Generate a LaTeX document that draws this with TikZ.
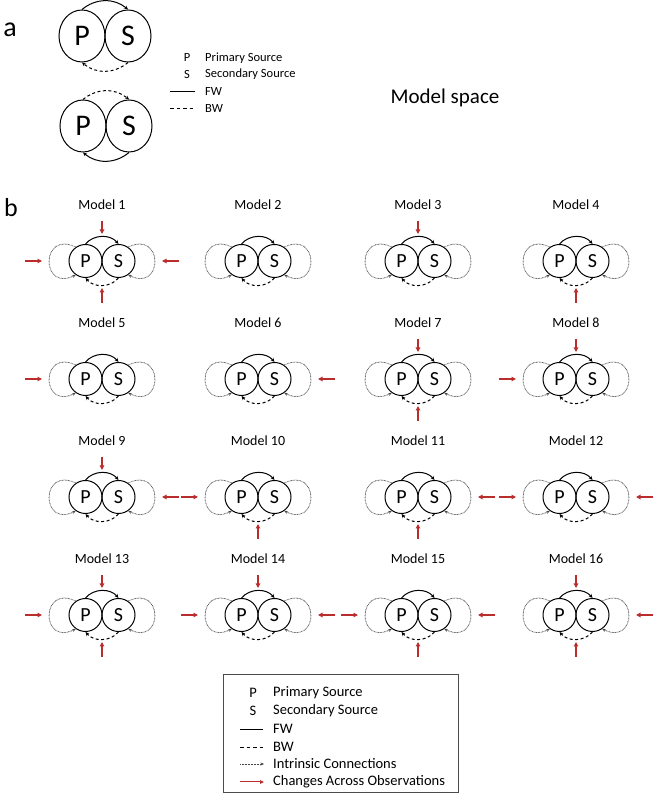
\documentclass[tikz,border=0pt]{standalone}
\usepackage{fontspec}
\setmainfont{Carlito}
\usetikzlibrary{arrows.meta,calc,shapes.geometric}
\definecolor{chgred}{RGB}{185,45,45}
\definecolor{intgray}{RGB}{70,70,70}
\tikzset{
 srcb/.style={circle, draw, line width=1pt, minimum size=33pt, inner sep=0pt, font=\fontsize{20}{20}\selectfont},
 srca/.style={ellipse, draw, line width=1pt, minimum width=46pt, minimum height=52pt, inner sep=0pt, font=\fontsize{30}{30}\selectfont},
 fwline/.style={line width=1pt, -{Stealth[length=4pt,width=3.5pt]}},
 bwline/.style={fwline, dash pattern=on 3pt off 2.5pt},
 fwplain/.style={line width=0.9pt},
 bwplain/.style={line width=0.9pt, dash pattern=on 3.5pt off 3pt},
 intr/.style={intgray, line width=0.75pt, dash pattern=on 0.75pt off 0.75pt, -{Stealth[length=3.5pt,width=3pt]}},
 chg/.style={chgred, line width=1.2pt, -{Triangle[length=4.5pt,width=4.5pt]}},
 mlabel/.style={font=\fontsize{14}{16}\selectfont},
 legtext/.style={anchor=west, inner sep=0pt, font=\fontsize{14.5}{16}\selectfont},
 legsym/.style={inner sep=0pt, font=\fontsize{14.5}{16}\selectfont},
 legatext/.style={anchor=west, inner sep=0pt, font=\fontsize{12.5}{14}\selectfont},
 legasym/.style={inner sep=0pt, font=\fontsize{12.5}{14}\selectfont},
}
\newcommand\psmodel[4]{%
 \coordinate (#1) at (#2,#3);
 \node[srcb] (#1P) at (#2-16.5,#3) {P};
 \node[srcb] (#1S) at (#2+16.5,#3) {S};
 \node[mlabel] (#1L) at (#2,#3+56) {Model #4};
 \draw[fwline] (#1P.north) to[bend left=50] (#1S.north);
 \draw[bwline] (#1S.south) to[bend left=50] (#1P.south);
 \draw[intr] (#1P.125) .. controls (#2-61.5,#3+31) and (#2-61.5,#3-31) .. (#1P.235);
 \draw[intr] (#1S.55) .. controls (#2+61.5,#3+31) and (#2+61.5,#3-31) .. (#1S.-55);
}
\newcommand\chgtop[1]{\draw[chg] ($(#1)+(0,40)$) -- ($(#1)+(0,27)$);}
\newcommand\chgbot[1]{\draw[chg] ($(#1)+(0,-42)$) -- ($(#1)+(0,-27)$);}
\newcommand\chgleft[1]{\draw[chg] ($(#1)+(-77,0)$) -- ($(#1)+(-60,0)$);}
\newcommand\chgright[1]{\draw[chg] ($(#1)+(77,0)$) -- ($(#1)+(60,0)$);}
\begin{document}
\begin{tikzpicture}[x=1pt,y=1pt]
\useasboundingbox (0,0) rectangle (657,800);
% ---------- part a ----------
\node[font=\fontsize{28}{28}\selectfont] (la) at (10,770) {a};
\node[srca] (aP1) at (82,764) {P};
\node[srca] (aS1) at (128,764) {S};
\draw[fwline] (aP1.north) to[bend left=40] (aS1.north);
\draw[bwline] (aS1.south) to[bend left=40] (aP1.south);
\node[srca] (aP2) at (83,674) {P};
\node[srca] (aS2) at (129,674) {S};
\draw[bwline] (aP2.north) to[bend left=40] (aS2.north);
\draw[fwline] (aS2.south) to[bend left=40] (aP2.south);
\node[legasym] (laP) at (187,742) {P};
\node[legatext] (laPt) at (205,742) {Primary Source};
\node[legasym] (laS) at (187,726) {S};
\node[legatext] (laSt) at (205,726) {Secondary Source};
\coordinate (lafa) at (170,709); \coordinate (lafb) at (195,709);
\draw[fwplain] (lafa) -- (lafb);
\node[legatext] (laFt) at (205,709) {FW};
\coordinate (laba) at (170,692); \coordinate (labb) at (195,692);
\draw[bwplain] (laba) -- (labb);
\node[legatext] (laBt) at (205,692) {BW};
\node[font=\fontsize{21}{24}\selectfont] (ms) at (445,702) {Model space};
% ---------- part b ----------
\node[font=\fontsize{26}{26}\selectfont] (lb) at (11,592) {b};
\psmodel{m1}{102}{539}{1}
\psmodel{m2}{258}{539}{2}
\psmodel{m3}{418}{539}{3}
\psmodel{m4}{576}{539}{4}
\psmodel{m5}{102}{421}{5}
\psmodel{m6}{258}{421}{6}
\psmodel{m7}{418}{421}{7}
\psmodel{m8}{576}{421}{8}
\psmodel{m9}{102}{303}{9}
\psmodel{m10}{258}{303}{10}
\psmodel{m11}{418}{303}{11}
\psmodel{m12}{576}{303}{12}
\psmodel{m13}{102}{185}{13}
\psmodel{m14}{258}{185}{14}
\psmodel{m15}{418}{185}{15}
\psmodel{m16}{576}{185}{16}
\chgtop{m1}\chgbot{m1}\chgleft{m1}\chgright{m1}
\chgtop{m3}
\chgbot{m4}
\chgleft{m5}
\chgright{m6}
\chgtop{m7}\chgbot{m7}
\chgtop{m8}\chgleft{m8}
\chgtop{m9}\chgright{m9}
\chgleft{m10}\chgbot{m10}
\chgbot{m11}\chgright{m11}
\chgleft{m12}\chgright{m12}
\chgtop{m13}\chgbot{m13}\chgleft{m13}
\chgtop{m14}\chgleft{m14}\chgright{m14}
\chgleft{m15}\chgright{m15}\chgbot{m15}
\chgtop{m16}\chgbot{m16}\chgright{m16}
% ---------- legend b ----------
\node[draw=black!70, line width=0.8pt, minimum width=235pt, minimum height=118pt, inner sep=0pt, anchor=south west] (legbox) at (223,7) {};
\node[legsym] (lbP) at (253,107) {P};
\node[legtext] (lbPt) at (273,107) {Primary Source};
\node[legsym] (lbS) at (253,89) {S};
\node[legtext] (lbSt) at (273,89) {Secondary Source};
\coordinate (lbfa) at (240,71); \coordinate (lbfb) at (263,71);
\draw[fwplain] (lbfa) -- (lbfb);
\node[legtext] (lbFt) at (273,71) {FW};
\coordinate (lbba) at (240,53); \coordinate (lbbb) at (263,53);
\draw[bwplain] (lbba) -- (lbbb);
\node[legtext] (lbBt) at (273,53) {BW};
\coordinate (lbia) at (240,36); \coordinate (lbib) at (264,36);
\draw[intr] (lbia) -- (lbib);
\node[legtext] (lbIt) at (273,36) {Intrinsic Connections};
\coordinate (lbca) at (240,18); \coordinate (lbcb) at (264,18);
\draw[chgred, line width=1pt, -{Triangle[length=4pt,width=3.5pt]}] (lbca) -- (lbcb);
\node[legtext] (lbCt) at (273,18) {Changes Across Observations};
\end{tikzpicture}
\end{document}
